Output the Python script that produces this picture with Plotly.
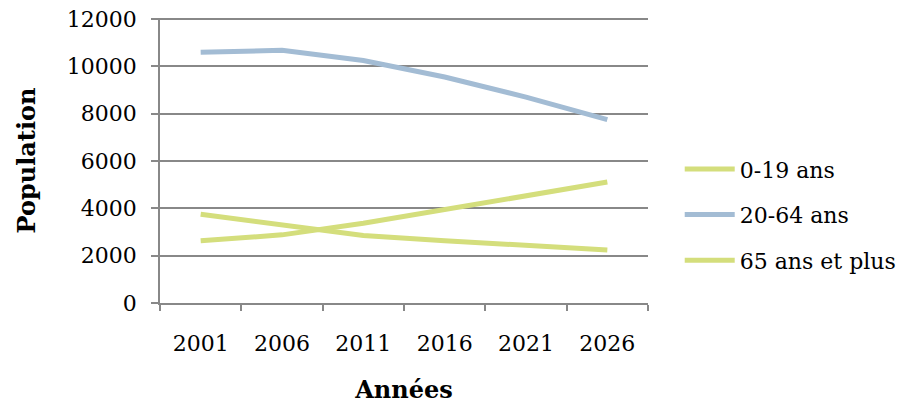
import plotly.graph_objects as go

years = ["2001", "2006", "2011", "2016", "2021", "2026"]
age_0_19 = [2630, 2880, 3370, 3960, 4540, 5110]
age_20_64 = [10600, 10680, 10250, 9550, 8700, 7750]
age_65_plus = [3750, 3300, 2850, 2630, 2420, 2240]
series_names = ["0-19 ans", "20-64 ans", "65 ans et plus"]
y_ticks = [0, 2000, 4000, 6000, 8000, 10000, 12000]
y_tick_labels = ["0", "2000", "4000", "6000", "8000", "10000", "12000"]

green = "#D4DE7C"
blue = "#A3BCD4"
grid = "#888888"
font_family = "DejaVu Serif"

fig = go.Figure()
for name, vals, col in zip(series_names, [age_0_19, age_20_64, age_65_plus], [green, blue, green]):
    fig.add_trace(go.Scatter(x=years, y=vals, mode="lines", name=name,
                             legendgroup=name,
                             line=dict(color=col, width=5)))

fig.update_layout(
    width=903, height=396,
    margin=dict(l=152, r=261, t=10, b=101),
    plot_bgcolor="white", paper_bgcolor="white",
    font=dict(family=font_family, size=22, color="black"),
    showlegend=True,
    legend=dict(x=1.065, y=0.31, xanchor="left", yanchor="middle",
                tracegroupgap=14, font=dict(size=22, family=font_family),
                itemwidth=50),
    xaxis=dict(type="category", range=[-0.5, 5.5], tickson="boundaries",
               ticks="outside", ticklen=6, tickcolor=grid, tickwidth=1.5,
               showline=True, linecolor=grid, linewidth=1.5,
               showgrid=False, ticklabelstandoff=20, automargin=False,
               title=dict(text="<b>Années</b>", standoff=30,
                          font=dict(size=24, family=font_family))),
    yaxis=dict(range=[0, 12045], tickvals=y_ticks, ticktext=y_tick_labels,
               ticks="outside", ticklabeloverflow="allow",
               ticklen=7, tickcolor=grid, tickwidth=1.5,
               showline=True, linecolor=grid, linewidth=1.5,
               showgrid=True, gridcolor=grid, gridwidth=1.5,
               zeroline=False, ticklabelstandoff=10, automargin=False,
               title=dict(text="<b>Population</b>", standoff=24,
                          font=dict(size=24, family=font_family))),
)

fig.write_html("out.html")
